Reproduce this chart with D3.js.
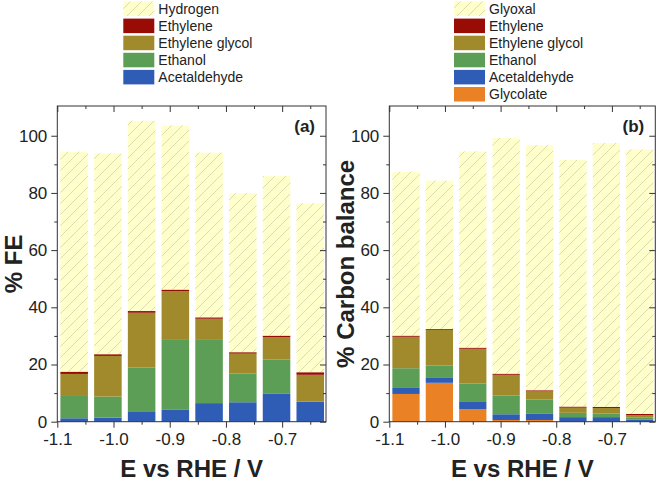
<!DOCTYPE html>
<html><head><meta charset="utf-8">
<script src="https://cdn.jsdelivr.net/npm/d3@7"></script>
<style>body{margin:0;background:#fff}svg{display:block;font-family:"Liberation Sans",Arial,sans-serif}</style>
</head><body><svg id="c" width="661" height="481"></svg>
<script>
// ---- data ----
const potentials = [-1.07, -1.01, -0.95, -0.89, -0.83, -0.77, -0.71, -0.65];
const xMajorTicks = [-1.1, -1.0, -0.9, -0.8, -0.7];
const xMinorTicks = [-1.05, -0.95, -0.85, -0.75, -0.65];
const yMajorTicks = [0, 20, 40, 60, 80, 100];
const yMinorTicks = [10, 30, 50, 70, 90];

// Panel (a): Faradaic efficiency, stacked bottom -> top
const feSeries = ["Acetaldehyde", "Ethanol", "Ethylene glycol", "Ethylene", "Hydrogen"];
const feAcetaldehyde = [1.2, 1.4, 3.4, 4.3, 6.5, 6.8, 9.9, 7.0];
const feEthanol      = [7.8, 7.4, 15.6, 24.3, 22.1, 10.1, 11.9, 0.0];
const feEthyleneGlycol = [7.7, 14.2, 19.1, 17.1, 7.4, 6.9, 7.8, 9.4];
const feEthylene     = [0.8, 0.6, 0.6, 0.5, 0.5, 0.5, 0.5, 0.9];
const feHydrogen     = [76.9, 70.2, 66.5, 57.4, 57.6, 55.6, 55.8, 59.1];

// Panel (b): carbon balance, stacked bottom -> top
const cbSeries = ["Glycolate", "Acetaldehyde", "Ethanol", "Ethylene glycol", "Ethylene", "Glyoxal"];
const cbGlycolate    = [9.7, 13.6, 4.4, 0.6, 0.6, 0.0, 0.0, 0.0];
const cbAcetaldehyde = [2.1, 1.7, 2.5, 2.0, 2.3, 1.6, 1.6, 0.8];
const cbEthanol      = [6.9, 4.3, 6.4, 6.6, 4.9, 1.5, 1.3, 0.6];
const cbEthyleneGlycol = [11.0, 12.5, 12.2, 7.2, 2.8, 1.8, 1.9, 0.9];
const cbEthylene     = [0.4, 0.3, 0.4, 0.4, 0.4, 0.4, 0.4, 0.4];
const cbGlyoxal      = [57.3, 51.9, 68.6, 82.4, 85.7, 86.2, 92.2, 92.5];

// legend order (top -> bottom)
const feLegend = ["Hydrogen", "Ethylene", "Ethylene glycol", "Ethanol", "Acetaldehyde"];
const cbLegend = ["Glyoxal", "Ethylene", "Ethylene glycol", "Ethanol", "Acetaldehyde", "Glycolate"];

// ---- style ----
const colors = {
  "Hydrogen": "url(#hatch)", "Glyoxal": "url(#hatch)",
  "Ethylene": "#980c05", "Ethylene glycol": "#a08a2c", "Ethanol": "#5c9e55",
  "Acetaldehyde": "#2f5db5", "Glycolate": "#ea8124"
};

const svg = d3.select("#c");
const defs = svg.append("defs");
const pat = defs.append("pattern").attr("id", "hatch").attr("patternUnits", "userSpaceOnUse")
  .attr("width", 11).attr("height", 11);
pat.append("rect").attr("width", 11).attr("height", 11).attr("fill", "#ffffcc");
pat.append("path").attr("d", "M-1,12 L12,-1 M-3,3 L3,-3 M8,14 L14,8")
  .attr("stroke", "#cfcca6").attr("stroke-width", 0.7);

const barW = 0.049;

function panel(opts) {
  const {rows, series, x0, x1, yLabel, tag, legend, legendX} = opts;
  const x = d3.scaleLinear().domain([-1.1, -0.622]).range([x0, x1]);
  const y = d3.scaleLinear().domain([0, 110.4]).range([421.7, 106]);
  const g = svg.append("g");
  const stack = d3.stack().keys(series)(rows);
  stack.forEach(layer => {
    g.append("g").selectAll("rect").data(layer).join("rect")
      .attr("x", d => x(d.data.E - barW / 2))
      .attr("width", d => x(d.data.E + barW / 2) - x(d.data.E - barW / 2))
      .attr("y", d => y(d[1]))
      .attr("height", d => Math.max(0, y(d[0]) - y(d[1])))
      .attr("fill", colors[layer.key]);
  });
  // frame
  g.append("rect").attr("x", x0).attr("y", 106).attr("width", x1 - x0).attr("height", 421.7 - 106)
    .attr("fill", "none").attr("stroke", "#333").attr("stroke-width", 1);
  const style = sel => { sel.select(".domain").remove(); sel.selectAll("line").attr("stroke", "#333"); };
  // bottom
  g.append("g").attr("transform", "translate(0,421.7)")
    .call(d3.axisBottom(x).tickValues(xMajorTicks).tickSize(6).tickPadding(5).tickFormat(d3.format(".1f")))
    .call(style)
    .call(s => s.selectAll("text").attr("font-size", 17).attr("fill", "#222")
      .attr("font-family", "Liberation Sans, Arial, sans-serif").text(d => d3.format(".1f")(d).replace("−", "-")));
  g.append("g").attr("transform", "translate(0,421.7)")
    .call(d3.axisBottom(x).tickValues(xMinorTicks).tickSize(3).tickFormat("")).call(style);
  // top (inward)
  g.append("g").attr("transform", "translate(0,106)")
    .call(d3.axisTop(x).tickValues(xMajorTicks).tickSize(-6).tickFormat("")).call(style);
  g.append("g").attr("transform", "translate(0,106)")
    .call(d3.axisTop(x).tickValues(xMinorTicks).tickSize(-3).tickFormat("")).call(style);
  // left
  g.append("g").attr("transform", `translate(${x0},0)`)
    .call(d3.axisLeft(y).tickValues(yMajorTicks).tickSize(6).tickPadding(4))
    .call(style)
    .call(s => s.selectAll("text").attr("font-size", 17).attr("fill", "#222")
      .attr("font-family", "Liberation Sans, Arial, sans-serif"));
  g.append("g").attr("transform", `translate(${x0},0)`)
    .call(d3.axisLeft(y).tickValues(yMinorTicks).tickSize(3).tickFormat("")).call(style);
  // right (inward)
  g.append("g").attr("transform", `translate(${x1},0)`)
    .call(d3.axisRight(y).tickValues(yMajorTicks).tickSize(-6).tickFormat("")).call(style);
  g.append("g").attr("transform", `translate(${x1},0)`)
    .call(d3.axisRight(y).tickValues(yMinorTicks).tickSize(-3).tickFormat("")).call(style);
  // labels
  g.append("text").attr("x", (x0 + x1) / 2).attr("y", 477).attr("text-anchor", "middle")
    .attr("font-size", 24).attr("font-weight", "bold").attr("fill", "#222").text("E vs RHE / V");
  g.append("text").attr("transform", `translate(${x0 - 35},${(106 + 421.7) / 2}) rotate(-90)`)
    .attr("text-anchor", "middle").attr("font-size", 24).attr("font-weight", "bold").attr("fill", "#222")
    .text(yLabel);
  g.append("text").attr("x", x1 - 11).attr("y", 132).attr("text-anchor", "end")
    .attr("font-size", 17).attr("font-weight", "bold").attr("fill", "#222").text(tag);
  // legend
  const lg = svg.append("g");
  legend.forEach((name, i) => {
    const yy = 1.5 + i * 17.1;
    lg.append("rect").attr("x", legendX).attr("y", yy).attr("width", 31).attr("height", 14.5)
      .attr("fill", colors[name]);
    lg.append("text").attr("x", legendX + 35).attr("y", yy + 12).attr("font-size", 14)
      .attr("fill", "#222").text(name);
  });
}

const feRows = potentials.map((E, i) => ({
  E, "Acetaldehyde": feAcetaldehyde[i], "Ethanol": feEthanol[i], "Ethylene glycol": feEthyleneGlycol[i],
  "Ethylene": feEthylene[i], "Hydrogen": feHydrogen[i]
}));
const cbRows = potentials.map((E, i) => ({
  E, "Glycolate": cbGlycolate[i], "Acetaldehyde": cbAcetaldehyde[i], "Ethanol": cbEthanol[i],
  "Ethylene glycol": cbEthyleneGlycol[i], "Ethylene": cbEthylene[i], "Glyoxal": cbGlyoxal[i]
}));

panel({rows: feRows, series: feSeries, x0: 57.3, x1: 326, yLabel: "% FE", tag: "(a)", legend: feLegend, legendX: 123.3});
panel({rows: cbRows, series: cbSeries, x0: 389.3, x1: 655.3, yLabel: "% Carbon balance", tag: "(b)", legend: cbLegend, legendX: 454});
</script></body></html>
